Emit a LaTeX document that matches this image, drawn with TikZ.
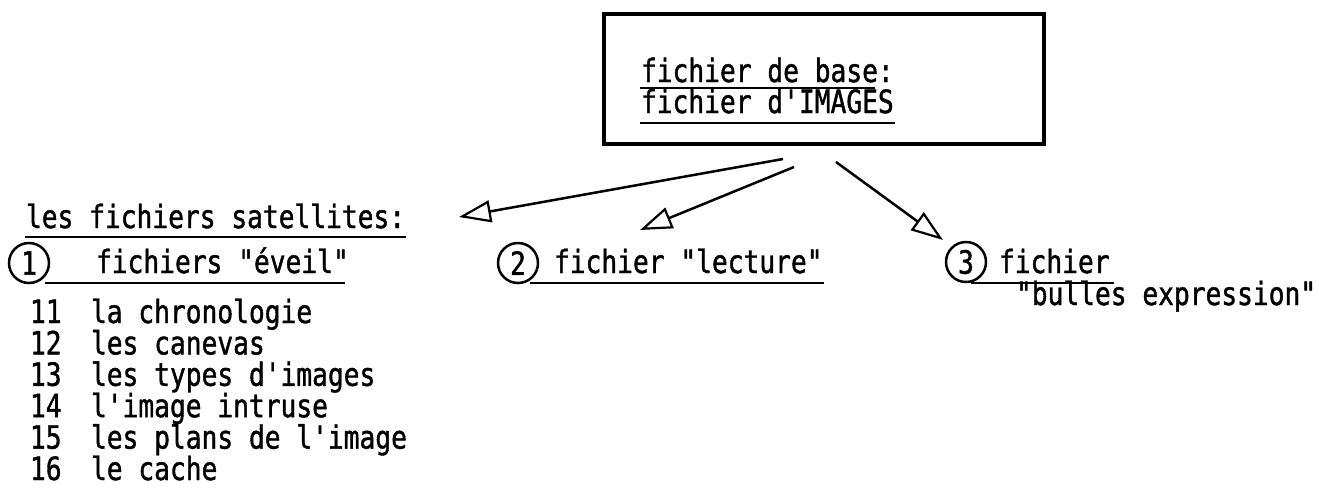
\documentclass[tikz,border=0pt]{standalone}
\usepackage{fontspec}
\setmonofont{DejaVu Sans Mono}[FakeStretch=0.82,FakeBold=1.2]
\usepackage{tikz}
\usetikzlibrary{calc,arrows.meta}

\begin{document}
\begin{tikzpicture}[x=1pt,y=-1pt]
    \useasboundingbox (0,0) rectangle (1319,488);
    \begin{scope}[line width=2pt,font=\ttfamily\fontsize{32}{31}\selectfont,
        txt/.style={anchor=base west,inner sep=0pt},
        num/.style={circle,draw,line width=2.5pt,minimum size=40pt,inner sep=0pt},
        sat/.style={line width=2.5pt,-{Triangle[open,length=32pt,width=22pt,line width=2.2pt]}}]
    % Base file:
    % A plain box with the two lines of text set into it:
    \node [draw,line width=4pt,anchor=north west,minimum width=440pt,minimum height=130pt] (base) at (602,12) {};
    \node [txt] (base1) at (640,82) {fichier de base:};
    \node [txt] (base2) at (640,113) {fichier d'IMAGES};
    \draw ($(base1.base west)+(0,6)$) -- ($(base1.base east)+(-20,6)$);
    \draw ($(base2.base west)+(0,10)$) -- ($(base2.base east)+(0,10)$);

    % Arrows:
    % Start a bit below the box and end in open heads:
    \coordinate (s1) at ($(base.south)+(-41,13)$);
    \coordinate (s2) at ($(base.south)+(-30,21)$);
    \coordinate (s3) at ($(base.south)+(12,16)$);
    \coordinate (t1) at (459,217);
    \coordinate (t2) at (640,230);
    \coordinate (t3) at (943,240);
    \draw [sat] (s1) -- (t1);
    \draw [sat] (s2) -- (t2);
    \draw [sat] (s3) -- (t3);

    % Satellite files:
    \node [txt] (sathead) at (25,228) {les fichiers satellites:};
    \draw ($(sathead.base west)+(0,9)$) -- ($(sathead.base east)+(0,9)$);

    \node [num] (n1) at (29,263) {1};
    \node [txt] (eveil) at (95,273) {fichiers "éveil"};
    \draw ($(eveil.base west)+(-50,10)$) -- ($(eveil.base east)+(-5,10)$);

    \node [num] (n2) at (518,263) {2};
    \node [txt] (lect) at (553,273) {fichier "lecture"};
    \draw ($(lect.base west)+(-23,10)$) -- ($(lect.base east)+(0,10)$);

    \node [num] (n3) at (966,262) {3};
    \node [txt] (bull1) at (998,273) {fichier};
    \node [txt] (bull2) at (1015,305) {"bulles expression"};
    \draw ($(bull1.base west)+(-27,10)$) -- ($(bull1.base east)+(3,10)$);

    % List of the first satellite file:
    \foreach \n/\t [count=\i from 0] in {11/la chronologie,12/les canevas,13/les types d'images,
        14/l'image intruse,15/les plans de l'image,16/le cache} {
        \node [txt] (num\n) at (29,{323+31.4*\i}) {\n};
        \node [txt] (item\n) at (90,{323+31.4*\i}) {\t};
    }
    \end{scope}
\end{tikzpicture}
\end{document}
